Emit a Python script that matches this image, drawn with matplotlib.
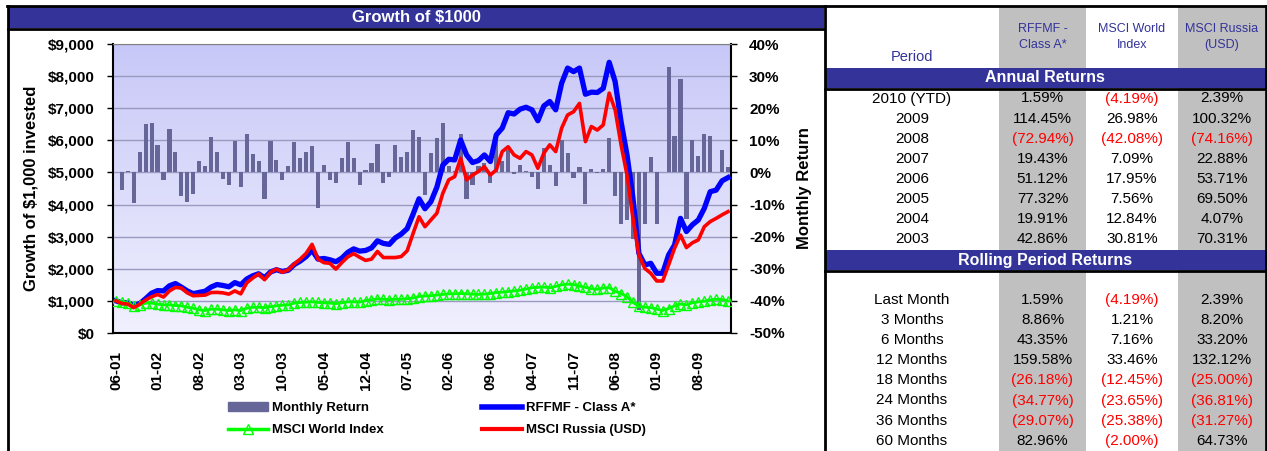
import numpy as np
import matplotlib.pyplot as plt
from matplotlib.patches import Rectangle
from matplotlib.lines import Line2D
from matplotlib.colors import LinearSegmentedColormap

plt.rcParams['font.family'] = ['Liberation Sans', 'DejaVu Sans']

# ---- data (Jun 2001 .. Jan 2010, monthly) ----
tick_labels = ["06-01", "01-02", "08-02", "03-03", "10-03", "05-04", "12-04", "07-05",
               "02-06", "09-06", "04-07", "11-07", "06-08", "01-09", "08-09"]

monthly_ret = [np.nan, -5.6, 0.3, -9.4, 6.4, 15.1, 15.5, 8.4, -2.3, 13.6,
               6.5, -7.3, -9.1, -6.7, 3.6, 1.9, 11.1, 6.4, -1.9, -3.8,
               9.9, -4.5, 12.1, 5.7, 3.6, -8.2, 9.9, 4.0, -2.2, 1.9,
               9.6, 4.5, 6.5, 8.1, -11.2, 2.3, -2.3, -3.3, 4.5, 9.6,
               4.5, -4.0, 0.8, 3.0, 9.0, -3.3, -1.3, 8.4, 4.7, 6.5,
               13.3, 11.0, -7.1, 5.9, 10.6, 15.4, 2.0, 0.3, 11.9, -8.4,
               -4.0, 2.0, 3.0, -3.4, 12.0, 3.5, 7.0, -0.5, 2.3, 0.3,
               -1.3, -5.2, 7.5, 2.3, -4.2, 10.1, 6.0, -1.8, 1.8, -9.7,
               1.0, -0.1, 1.1, 10.8, -7.3, -15.9, -14.7, -20.7, -42.7, -15.9,
               4.8, -16.2, 0.2, 32.7, 11.3, 29.2, -14.6, 10.0, 5.1, 12.0,
               11.4, 0.1, 6.9, 1.6]

fund = [1000, 940, 940, 855, 915, 1070, 1240, 1320, 1310, 1470,
        1540, 1430, 1310, 1225, 1265, 1300, 1430, 1510, 1480, 1440,
        1570, 1500, 1680, 1780, 1845, 1720, 1900, 1970, 1915, 1955,
        2130, 2240, 2380, 2580, 2300, 2320, 2280, 2220, 2330, 2510,
        2620, 2550, 2570, 2650, 2870, 2790, 2760, 2960, 3080, 3250,
        3700, 4180, 3870, 4090, 4540, 5230, 5410, 5390, 6010, 5545,
        5310, 5370, 5545, 5340, 6170, 6380, 6860, 6820, 6970, 7030,
        6950, 6610, 7070, 7210, 6950, 7780, 8250, 8140, 8250, 7435,
        7500, 7490, 7620, 8430, 7830, 6580, 5545, 4200, 2480, 2120,
        2170, 1860, 1860, 2430, 2740, 3570, 3160, 3370, 3520, 3880,
        4400, 4450, 4740, 4840]

russia = [1000, 920, 900, 790, 900, 1030, 1130, 1200, 1120, 1310,
          1420, 1400, 1250, 1160, 1170, 1180, 1260, 1265, 1250, 1210,
          1310, 1220, 1560, 1710, 1840, 1660, 1890, 1990, 1890, 1970,
          2150, 2300, 2480, 2760, 2300, 2190, 2170, 1990, 2190, 2370,
          2470, 2360, 2260, 2300, 2540, 2350, 2350, 2350, 2380, 2560,
          3100, 3620, 3310, 3520, 3730, 4350, 4770, 4870, 5440, 4770,
          4920, 5030, 5180, 4920, 5080, 5650, 5800, 5545, 5440, 5650,
          5545, 5130, 5600, 5860, 5650, 6380, 6790, 6890, 7150, 5960,
          6430, 6320, 6480, 7470, 6950, 5860, 4920, 3570, 2430, 2010,
          1860, 1620, 1620, 2120, 2640, 3050, 2660, 2810, 2900, 3310,
          3470, 3570, 3680, 3780]

world = [1000, 980, 930, 840, 875, 930, 930, 895, 875, 875,
         855, 845, 800, 770, 720, 700, 740, 740, 720, 700,
         720, 700, 770, 800, 800, 790, 820, 845, 865, 875,
         930, 950, 960, 970, 950, 940, 930, 915, 940, 970,
         970, 960, 1010, 1030, 1060, 1050, 1040, 1050, 1050, 1070,
         1090, 1135, 1150, 1160, 1180, 1200, 1220, 1220, 1230, 1220,
         1210, 1200, 1210, 1230, 1260, 1270, 1290, 1310, 1330, 1370,
         1410, 1420, 1430, 1410, 1450, 1500, 1520, 1510, 1460, 1420,
         1380, 1360, 1400, 1410, 1300, 1230, 1130, 950, 830, 800,
         790, 740, 700, 760, 840, 900, 880, 940, 970, 990,
         1030, 1050, 1040, 1000]

# ---- table data ----
table_cols = ["RFFMF -\nClass A*", "MSCI World\nIndex", "MSCI Russia\n(USD)"]
annual_periods = ["2010 (YTD)", "2009", "2008", "2007", "2006", "2005", "2004", "2003"]
annual_fund = [1.59, 114.45, -72.94, 19.43, 51.12, 77.32, 19.91, 42.86]
annual_world = [-4.19, 26.98, -42.08, 7.09, 17.95, 7.56, 12.84, 30.81]
annual_russia = [2.39, 100.32, -74.16, 22.88, 53.71, 69.50, 4.07, 70.31]
rolling_periods = ["Last Month", "3 Months", "6 Months", "12 Months",
                   "18 Months", "24 Months", "36 Months", "60 Months"]
rolling_fund = [1.59, 8.86, 43.35, 159.58, -26.18, -34.77, -29.07, 82.96]
rolling_world = [-4.19, 1.21, 7.16, 33.46, -12.45, -23.65, -25.38, -2.00]
rolling_russia = [2.39, 8.20, 33.20, 132.12, -25.00, -36.81, -31.27, 64.73]

NAVY = '#333399'
W, H = 1267, 451
fig = plt.figure(figsize=(W / 100, H / 100), dpi=100)

# overlay in pixel coords for boxes and the table
bg = fig.add_axes([0, 0, 1, 1])
bg.set_xlim(0, W)
bg.set_ylim(H, 0)
bg.axis('off')

# left panel frame + title bar
bg.add_patch(Rectangle((8, 7), 816, 21, color=NAVY, lw=0))
bg.text(416, 17.5, "Growth of $1000", color='white', fontsize=12, fontweight='bold',
        ha='center', va='center')
bg.plot([7, 1266], [6, 6], color='black', lw=2)
bg.plot([8, 8], [6, H], color='black', lw=2)
bg.plot([8, 824], [29, 29], color='black', lw=2)
bg.plot([824.5, 824.5], [6, H], color='black', lw=2)
bg.plot([1265.5, 1265.5], [6, H], color='black', lw=2)

# table
col_x = [1042.5, 1132, 1222]
bg.add_patch(Rectangle((999, 7), 87, H - 7, color='#C0C0C0', lw=0))
bg.add_patch(Rectangle((1178, 7), 87, H - 7, color='#C0C0C0', lw=0))
bg.text(912, 57, "Period", color=NAVY, fontsize=10.5, ha='center', va='center')
for cx, name in zip(col_x, table_cols):
    bg.text(cx, 37, name, color=NAVY, fontsize=9, ha='center', va='center',
            multialignment='center', linespacing=1.45)

for ytop, title in [(68, "Annual Returns"), (250, "Rolling Period Returns")]:
    bg.add_patch(Rectangle((825, ytop), 441, 20, color=NAVY, lw=0))
    bg.plot([825, 1266], [ytop + 21, ytop + 21], color='black', lw=2)
    bg.text(1045, ytop + 10, title, color='white', fontsize=11.5, fontweight='bold',
            ha='center', va='center')


def fmt(v):
    return f"({abs(v):.2f}%)" if v < 0 else f"{v:.2f}%"


def draw_rows(y0, periods, cols):
    for i, p in enumerate(periods):
        y = y0 + i * 20.1
        bg.text(912, y, p, fontsize=11, ha='center', va='center')
        for cx, vals in zip(col_x, cols):
            v = vals[i]
            bg.text(cx, y, fmt(v), fontsize=11, ha='center', va='center',
                    color='#FF0000' if v < 0 else 'black')


draw_rows(98.5, annual_periods, [annual_fund, annual_world, annual_russia])
draw_rows(300, rolling_periods, [rolling_fund, rolling_world, rolling_russia])

# ---- chart ----
x = np.arange(len(fund))
ax = fig.add_axes([113 / W, 1 - 333 / H, 618 / W, 289 / H])
ax2 = ax.twinx()
ax.set_zorder(3)
ax2.set_zorder(2)
ax.patch.set_visible(False)

grad = np.linspace(0, 1, 256).reshape(-1, 1)
cmap = LinearSegmentedColormap.from_list('bgc', ['#F0F0FE', '#C8C8F8'])
ax2.imshow(grad, cmap=cmap, aspect='auto', extent=[0, 1, 0, 1],
           transform=ax2.transAxes, origin='lower', zorder=0)
ax2.bar(x, monthly_ret, width=0.7, color='#666699', zorder=2)
ax2.set_ylim(-50, 40)
ax2.set_yticks(np.arange(-50, 41, 10))
ax2.yaxis.set_major_formatter(lambda v, p: f"{v:.0f}%")
ax2.yaxis.grid(True, color='#9A9AC0', lw=1)
ax2.set_axisbelow(True)
for s in ax2.spines.values():
    s.set_visible(False)
ax2.tick_params(axis='y', direction='out', length=4, width=1, pad=9, labelsize=11)
for t in ax2.get_yticklabels():
    t.set_fontweight('bold')
ax2.set_ylabel("Monthly Return", fontsize=12, fontweight='bold', rotation=90)
ax2.yaxis.set_label_coords(1.106, 0.5)

ax.plot(x, fund, color='#0000FF', lw=3.8, solid_joinstyle='round', zorder=3)
ax.plot(x, world, color='#00FF00', lw=2, marker='^', markersize=7,
        markerfacecolor='none', markeredgecolor='#00FF00', markeredgewidth=1, zorder=4)
ax.plot(x, russia, color='#FF0000', lw=2.6, solid_joinstyle='round', zorder=5)
ax.set_ylim(0, 9000)
ax.set_xlim(-0.5, len(fund) - 0.5)
ax2.set_xlim(-0.5, len(fund) - 0.5)
ax.set_yticks(np.arange(0, 9001, 1000))
ax.yaxis.set_major_formatter(lambda v, p: f"${v:,.0f}")
ax.set_xticks(np.arange(0, len(fund), 7))
ax.set_xticklabels(tick_labels, rotation=90, fontsize=11, fontweight='bold')
ax.tick_params(axis='x', length=0, pad=13)
ax.tick_params(axis='y', direction='out', length=4, width=1, pad=9, labelsize=11)
for t in ax.get_yticklabels():
    t.set_fontweight('bold')
ax.set_ylabel("Growth of $1,000 invested", fontsize=12, fontweight='bold')
ax.yaxis.set_label_coords(-0.12, 0.5)
for k in ['left', 'bottom', 'right']:
    ax.spines[k].set_color('black')
    ax.spines[k].set_linewidth(1.5)
ax.spines['top'].set_color('#808080')

# legend
handles = [Rectangle((0, 0), 1, 1, color='#666699'),
           Line2D([], [], color='#00FF00', lw=2.5, marker='^', markersize=7,
                  markerfacecolor='none', markeredgecolor='#00FF00'),
           Line2D([], [], color='#0000FF', lw=4),
           Line2D([], [], color='#FF0000', lw=3)]
labels = ["Monthly Return", "MSCI World Index", "RFFMF - Class A*", "MSCI Russia (USD)"]
fig.legend(handles, labels, ncol=2, loc='upper left', bbox_to_anchor=(228 / W, 1 - 402 / H),
           frameon=False, prop={'weight': 'bold', 'size': 9.5}, handlelength=3,
           handletextpad=0.3, columnspacing=7.5, labelspacing=0.75, borderpad=0,
           borderaxespad=0, numpoints=1)

fig.savefig("out.png", dpi=100)
